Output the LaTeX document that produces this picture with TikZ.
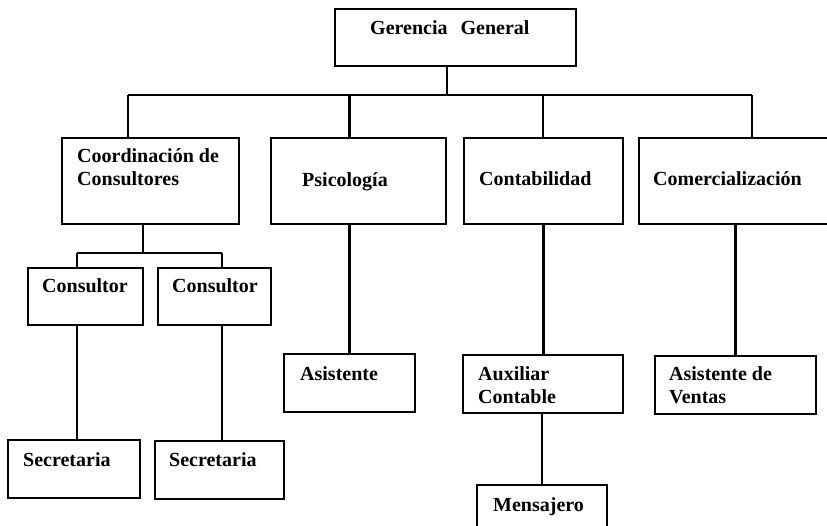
\documentclass[tikz,border=0pt]{standalone}
\usepackage{fontspec}
\setmainfont{Liberation Serif}
\usepackage{tikz}
\tikzstyle{unit}=[draw,line width=2.2pt,rectangle,inner sep=0pt]
\tikzstyle{edge} = [draw,line width=2.2pt,-]
\tikzstyle{title}=[anchor=base west,inner sep=0pt,align=left,font=\fontsize{20}{23}\selectfont\bfseries]

\begin{document}
\begin{tikzpicture}[x=1pt,y=-1pt]
    \useasboundingbox (0,0) rectangle (827,525);
    % First we draw the boxes
    \foreach \name/\x/\y/\w/\h in {gerencia/455.5/37.5/241/57, coord/150.5/181/177/86,
        psico/358.5/181/175/86, conta/543.5/181/159/86, comer/737/181/196/86,
        cons1/85.5/296.5/115/57, cons2/214.5/296.5/113/57,
        secre1/74/469/132/58, secre2/219.5/470/129/58, asist/349.5/383/131/58,
        auxil/543/384/160/58, ventas/735.5/385/161/58, mensa/542/515/130/60}
        \node[unit,minimum width=\w pt,minimum height=\h pt] (\name) at (\x,\y) {};
    % Then the titles (two-line titles sit on their last line)
    \foreach \name/\x/\y/\txt in {gerencia/370/34/{Gerencia\hspace{0.65em}General},
        coord/77/185/{Coordinación de\\Consultores}, psico/302/186/{Psicología},
        conta/479/185/{Contabilidad}, comer/653/185/{Comercialización},
        cons1/42/292/{Consultor}, cons2/172/292/{Consultor},
        secre1/23/466/{Secretaria}, secre2/169/466/{Secretaria},
        asist/300/380/{Asistente}, auxil/478/403/{Auxiliar\\Contable},
        ventas/669/403/{Asistente de\\Ventas}, mensa/493/511/{Mensajero}}
        \node[title] (\name-t) at (\x,\y) {\txt};
    % Tap points of the connecting lines
    \coordinate (busw) at (128,95);
    \coordinate (buse) at (752,95);
    \coordinate (ger) at (447,95);
    \coordinate (cbus) at (143,253);
    \coordinate (cbusw) at (77,253);
    \coordinate (cbuse) at (222,253);
    % Connect boxes with lines
    \path[edge] (busw) -- (buse);
    \path[edge] (gerencia.south -| ger) -- (ger);
    \path[edge] (busw) -- (busw |- coord.north);
    \path[edge] (asist.north |- busw) -- (asist.north |- psico.north);
    \path[edge] (auxil.north |- busw) -- (auxil.north |- conta.north);
    \path[edge] (buse) -- (buse |- comer.north);
    \path[edge] (asist.north |- psico.south) -- (asist.north);
    \path[edge] (conta.south) -- (conta.south |- auxil.north);
    \path[edge] (mensa.north |- auxil.south) -- (mensa.north);
    \path[edge] (ventas.north |- comer.south) -- (ventas.north);
    \path[edge] (cbus |- coord.south) -- (cbus);
    \path[edge] (cbusw) -- (cbuse);
    \path[edge] (cbusw) -- (cbusw |- cons1.north);
    \path[edge] (cbuse) -- (cbuse |- cons2.north);
    \path[edge] (cbusw |- cons1.south) -- (cbusw |- secre1.north);
    \path[edge] (cbuse |- cons2.south) -- (cbuse |- secre2.north);
\end{tikzpicture}
\end{document}
